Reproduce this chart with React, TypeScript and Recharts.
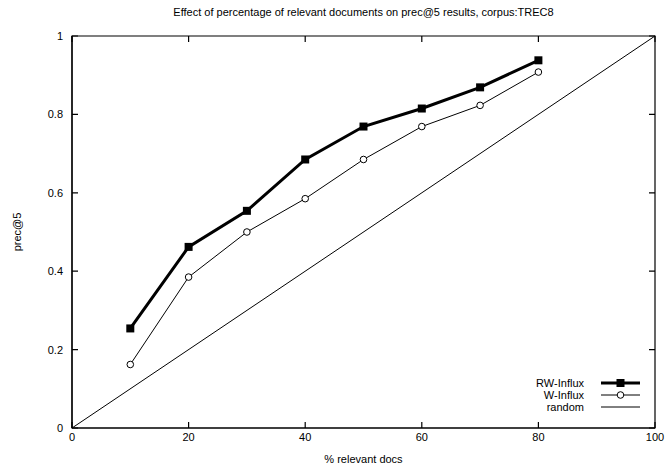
import { Line, LineChart, ReferenceArea, XAxis, YAxis } from "recharts"

const docsPct = [10, 20, 30, 40, 50, 60, 70, 80]
const rwInflux = [0.254, 0.462, 0.554, 0.685, 0.769, 0.815, 0.869, 0.938]
const wInflux = [0.162, 0.385, 0.5, 0.585, 0.685, 0.769, 0.823, 0.908]
const randomX = [0, 100]
const randomY = [0, 1]
const xTicks = [0, 20, 40, 60, 80, 100]
const yTicks = [0, 0.2, 0.4, 0.6, 0.8, 1]

const W = 670
const H = 473
const MARGIN = { top: 36, right: 15, left: 0, bottom: 0 }
const Y_AXIS_W = 72
const X_AXIS_H = 45
// plot box size, used to mirror the inward ticks onto the top/right edges
const PLOT_W = W - Y_AXIS_W - MARGIN.right
const PLOT_H = H - MARGIN.top - X_AXIS_H
const FONT = "'Liberation Sans', Arial, sans-serif"

const influxData = docsPct.map((p, i) => ({ pct: p, rw: rwInflux[i], w: wInflux[i] }))
const randomData = randomX.map((x, i) => ({ pct: x, random: randomY[i] }))

function BottomTick(props: any) {
  const { x, y, payload } = props
  return (
    <g>
      <path d={`M${x},${y}v-6M${x},${y - PLOT_H}v6`} stroke="#000" strokeWidth={1.2} fill="none" />
      <text x={x} y={y + 13} textAnchor="middle" fontSize={11} fontFamily={FONT} fill="#000">
        {payload.value}
      </text>
    </g>
  )
}

function LeftTick(props: any) {
  const { x, y, payload } = props
  return (
    <g>
      <path d={`M${x},${y}h6M${x + PLOT_W},${y}h-6`} stroke="#000" strokeWidth={1.2} fill="none" />
      <text x={x - 9} y={y + 4} textAnchor="end" fontSize={11} fontFamily={FONT} fill="#000">
        {payload.value}
      </text>
    </g>
  )
}

function SquareDot(props: any) {
  const { cx, cy } = props
  if (cx == null || cy == null) return null
  return <rect x={cx - 4} y={cy - 4} width={8} height={8} fill="#000" />
}

function CircleDot(props: any) {
  const { cx, cy } = props
  if (cx == null || cy == null) return null
  return <circle cx={cx} cy={cy} r={3.3} fill="#fff" stroke="#000" strokeWidth={1} />
}

export default function App() {
  return (
    <div style={{ position: "absolute", left: 0, top: 0, width: W, height: H, background: "#fff" }}>
      <svg width={W} height={H} style={{ position: "absolute", left: 0, top: 0 }} fontFamily={FONT}>
        <text x={363.5} y={16} textAnchor="middle" fontSize={11} fill="#000">
          Effect of percentage of relevant documents on prec@5 results, corpus:TREC8
        </text>
        <text x={363.5} y={463} textAnchor="middle" fontSize={11} fill="#000">
          % relevant docs
        </text>
        <text x={21} y={232} textAnchor="middle" fontSize={11} fill="#000" transform="rotate(-90 21 232)">
          prec@5
        </text>
        <g fontSize={11} fill="#000">
          <text x={584} y={387} textAnchor="end">RW-Influx</text>
          <text x={584} y={399} textAnchor="end">W-Influx</text>
          <text x={584} y={411} textAnchor="end">random</text>
          <line x1={601} y1={383} x2={640} y2={383} stroke="#000" strokeWidth={3} />
          <rect x={616.5} y={379} width={8} height={8} fill="#000" />
          <line x1={601} y1={395} x2={640} y2={395} stroke="#000" strokeWidth={1} />
          <circle cx={620.5} cy={395} r={3.3} fill="#fff" stroke="#000" />
          <line x1={601} y1={407} x2={640} y2={407} stroke="#000" strokeWidth={1} />
        </g>
      </svg>
      <LineChart width={W} height={H} margin={MARGIN}>
        <XAxis
          dataKey="pct"
          type="number"
          domain={[0, 100]}
          ticks={xTicks}
          height={X_AXIS_H}
          tickSize={0}
          tickMargin={0}
          tick={<BottomTick />}
          axisLine={{ stroke: "#000", strokeWidth: 1.2 }}
        />
        <YAxis
          type="number"
          domain={[0, 1]}
          ticks={yTicks}
          width={Y_AXIS_W}
          tickSize={0}
          tickMargin={0}
          tick={<LeftTick />}
          axisLine={{ stroke: "#000", strokeWidth: 1.2 }}
        />
        {/* plot frame */}
        <ReferenceArea
          x1={0}
          x2={100}
          y1={0}
          y2={1}
          fill="none"
          fillOpacity={0}
          stroke="#000"
          strokeWidth={1.2}
          strokeOpacity={1}
        />
        <Line
          data={randomData}
          dataKey="random"
          type="linear"
          stroke="#000"
          strokeWidth={1}
          dot={false}
          isAnimationActive={false}
        />
        <Line
          data={influxData}
          dataKey="w"
          type="linear"
          stroke="#000"
          strokeWidth={1}
          dot={<CircleDot />}
          isAnimationActive={false}
        />
        <Line
          data={influxData}
          dataKey="rw"
          type="linear"
          stroke="#000"
          strokeWidth={3}
          dot={<SquareDot />}
          isAnimationActive={false}
        />
      </LineChart>
    </div>
  )
}
